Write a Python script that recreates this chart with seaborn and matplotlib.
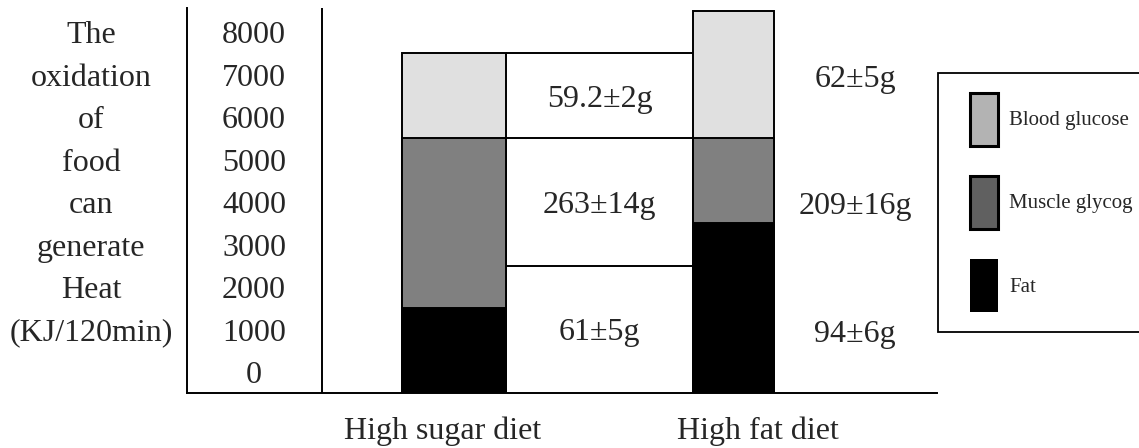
import numpy as np
import pandas as pd
import matplotlib
matplotlib.use("Agg")
import matplotlib.pyplot as plt
import matplotlib.transforms as mtransforms
from matplotlib.patches import Patch, Rectangle
from matplotlib.legend_handler import HandlerPatch
import seaborn as sns

diets = ["High sugar diet", "High fat diet"]
fat_kj = [2000, 4000]
muscle_kj = [4000, 2000]
glucose_kj = [2000, 3000]

# grams oxidised, bottom to top (fat, muscle glycogen, blood glucose)
sugar_grams = ["61±5g", "263±14g", "59.2±2g"]
fat_grams = ["94±6g", "209±16g", "62±5g"]

y_ticks = [0, 1000, 2000, 3000, 4000, 5000, 6000, 7000, 8000]
y_words = ["The", "oxidation", "of", "food", "can", "generate", "Heat", "(KJ/120min)"]
legend_labels = ["Blood glucose", "Muscle glycog", "Fat"]

df = pd.DataFrame({"diet": diets, "fat": fat_kj, "muscle": muscle_kj, "glucose": glucose_kj})
df["top_fat"] = df["fat"]
df["top_muscle"] = df["fat"] + df["muscle"]
df["top_glucose"] = df["fat"] + df["muscle"] + df["glucose"]

sns.set_theme(style="white")
plt.rcParams["font.family"] = ["Liberation Serif", "DejaVu Serif"]
FS = 23

W, H = 1139, 448
fig = plt.figure(figsize=(W / 100, H / 100), dpi=100)
ax = fig.add_axes([187 / W, (H - 393) / H, 750 / W, 385 / H])

bar_widths = [0.372, 0.29]
layers = [("top_glucose", "#e0e0e0"), ("top_muscle", "#808080"), ("top_fat", "#000000")]
for diet, w in zip(diets, bar_widths):
    sub = df[df["diet"] == diet]
    for col, color in layers:
        sns.barplot(data=sub, x="diet", y=col, order=diets, width=w, color=color,
                    saturation=1, edgecolor="black", linewidth=1.4, errorbar=None, ax=ax)

ax.set_xlim(-0.955, 1.728)
ax.set_ylim(0, 9059)

# table lines around the gram values
box_left = bar_widths[0] / 2
box_right = 1 - bar_widths[1] / 2
table_rows = [0, 3000, 6000, 8000]
ax.hlines(table_rows[1:], box_left, box_right, color="black", lw=1.4)
ax.axvline(-0.472, color="black", lw=1.4)

sugar_y = [(a + b) / 2 for a, b in zip(table_rows[:-1], table_rows[1:])]
for txt, y in zip(sugar_grams, sugar_y):
    ax.text((box_left + box_right) / 2, y, txt, ha="center", va="center_baseline", fontsize=FS)
fat_y = [1450, 4480, 7460]
for txt, y in zip(fat_grams, fat_y):
    ax.text(1.435, y, txt, ha="center", va="center_baseline", fontsize=FS)

# spines
sns.despine(ax=ax)
for s in ["left", "bottom"]:
    ax.spines[s].set_color("black")
    ax.spines[s].set_linewidth(1.4)

# y tick labels sit inside the first table column, half a step up
lift = mtransforms.ScaledTranslation(0, 21 / 100, fig.dpi_scale_trans)
ax.set_yticks(y_ticks)
ax.set_yticklabels([str(t) for t in y_ticks], fontsize=FS)
ax.tick_params(axis="y", length=0, pad=-67 * 0.72)
for lbl in ax.get_yticklabels():
    lbl.set_ha("center")
    lbl.set_transform(lbl.get_transform() + lift)

for word, y in zip(y_words, y_ticks[::-1]):
    ax.text(-0.128, y, word, transform=ax.get_yaxis_transform() + lift,
            ha="center", va="center_baseline", fontsize=FS)

ax.set_xticks([0, 1])
ax.set_xticklabels(diets, fontsize=FS)
ax.tick_params(axis="x", length=0, pad=17)
for lbl, dx in zip(ax.get_xticklabels(), [-11.5, 24]):
    lbl.set_transform(lbl.get_transform() + mtransforms.ScaledTranslation(dx / 100, 0, fig.dpi_scale_trans))
ax.set_xlabel("")
ax.set_ylabel("")


# legend swatches: narrow tall boxes pushed to the right of the handle area (points)
def tall_box(legend, orig_handle, xdescent, ydescent, width, height, fontsize):
    return Rectangle((-xdescent + width - 20.2, -ydescent), 20.2, height)


handles = [
    Patch(facecolor="#b3b3b3", edgecolor="black", linewidth=2.2, label=legend_labels[0]),
    Patch(facecolor="#606060", edgecolor="black", linewidth=2.2, label=legend_labels[1]),
    Patch(facecolor="#000000", edgecolor="none", label=legend_labels[2]),
]
leg = fig.legend(handles=handles, handler_map={Patch: HandlerPatch(patch_func=tall_box)},
                 loc="upper left", bbox_to_anchor=(938 / W, (H - 73) / H),
                 frameon=True, fancybox=False, edgecolor="black", framealpha=1, fontsize=15,
                 handlelength=1.93, handleheight=3.54, labelspacing=1.45, borderpad=0.95,
                 handletextpad=0.53, borderaxespad=0)
leg.get_frame().set_linewidth(1.3)

fig.savefig("out.png", dpi=100)
